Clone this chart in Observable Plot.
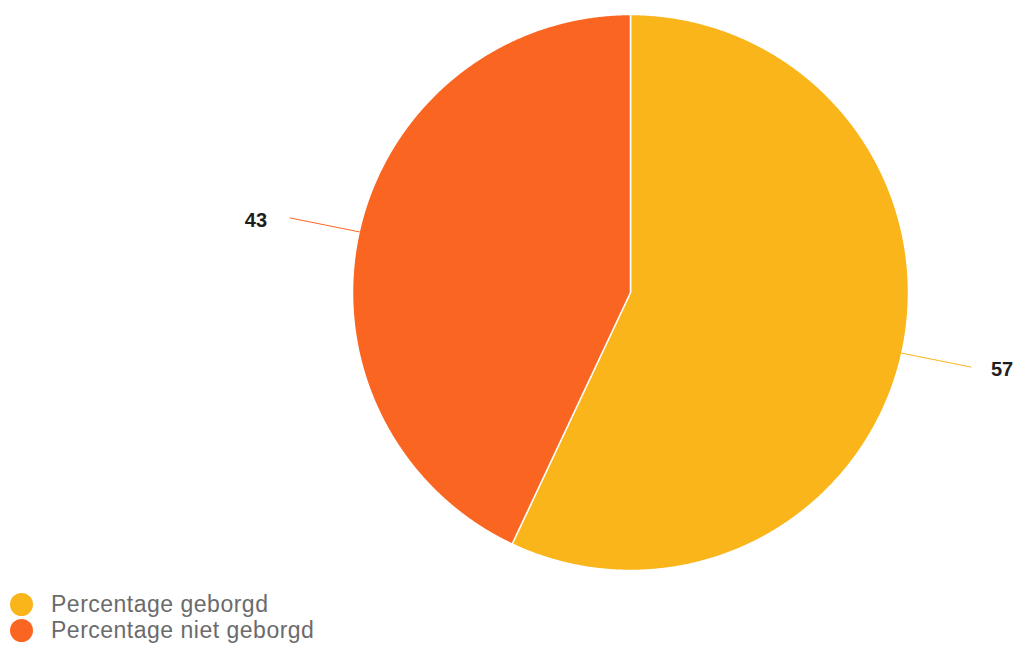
<!DOCTYPE html>
<html>
<head>
<meta charset="utf-8">
<script src="https://cdn.jsdelivr.net/npm/d3@7"></script>
<script src="https://cdn.jsdelivr.net/npm/@observablehq/plot@0.6"></script>
<style>
  html, body { margin: 0; padding: 0; background: #fff; }
  #chart { position: relative; width: 1017px; height: 649px; }
  #legend { position: absolute; left: 0; top: 590px; font-family: "Liberation Sans", Arial, sans-serif; font-size: 23px; letter-spacing: 0.5px; color: #6b6b6b; }
  .item { position: absolute; left: 10px; white-space: nowrap; height: 26px; line-height: 26px; }
  .dot { position: absolute; left: 0; top: 2px; width: 23px; height: 23px; border-radius: 50%; }
  .lbl { position: absolute; left: 41px; top: 0; }
</style>
</head>
<body>
<div id="chart"></div>
<script>
const categories = ["Percentage geborgd", "Percentage niet geborgd"];
const values = [57, 43];
const colors = ["#fab51b", "#fa6622"];

// layout constants (pixels)
const W = 1017, H = 590, CX = 630, CY = 292, R = 278;

const total = d3.sum(values);
const slices = [];
const leaders = [];
const labels = [];
let acc = 0;
values.forEach((v, i) => {
  const a0 = acc / total * 2 * Math.PI;
  acc += v;
  const a1 = acc / total * 2 * Math.PI;
  const n = Math.max(4, Math.ceil((a1 - a0) / 0.005));
  slices.push({cat: categories[i], x: 0, y: 0});
  for (let k = 0; k <= n; k++) {
    const a = a0 + (a1 - a0) * k / n;
    slices.push({cat: categories[i], x: Math.sin(a), y: Math.cos(a)});
  }
  const am = (a0 + a1) / 2;
  const ex = 1.255 * Math.sin(am), ey = 1.23 * Math.cos(am);
  leaders.push({cat: categories[i], x: Math.sin(am), y: Math.cos(am)});
  leaders.push({cat: categories[i], x: ex, y: ey});
  const right = Math.sin(am) >= 0;
  labels.push({cat: categories[i], value: v, x: ex + (right ? 20 : -23) / R, y: ey - 3 / R, anchor: right ? "start" : "end"});
});

const xDomain = [-CX / R, (W - CX) / R];
const yDomain = [-(H - CY) / R, CY / R];
const labelStyle = {x: "x", y: "y", text: d => String(d.value), fill: "#1e1e1e", fontWeight: "bold", fontSize: 20, fontFamily: "Liberation Sans, Arial, sans-serif"};

const plot = Plot.plot({
  width: W,
  height: H,
  margin: 0,
  x: {domain: xDomain, range: [0, W], axis: null},
  y: {domain: yDomain, range: [H, 0], axis: null},
  color: {domain: categories, range: colors},
  marks: [
    Plot.line(slices, {x: "x", y: "y", z: "cat", fill: "cat", stroke: "#fff", strokeWidth: 1.5, curve: "linear-closed"}),
    Plot.line(leaders, {x: "x", y: "y", z: "cat", stroke: "cat", strokeWidth: 1, curve: "linear"}),
    Plot.text(labels.filter(d => d.anchor === "start"), {...labelStyle, textAnchor: "start"}),
    Plot.text(labels.filter(d => d.anchor === "end"), {...labelStyle, textAnchor: "end"})
  ]
});
const chart = document.getElementById("chart");
chart.appendChild(plot);

const legend = document.createElement("div");
legend.id = "legend";
categories.forEach((c, i) => {
  const it = document.createElement("div");
  it.className = "item";
  it.style.top = (1 + i * 26) + "px";
  const dot = document.createElement("span");
  dot.className = "dot";
  dot.style.background = colors[i];
  const t = document.createElement("span");
  t.className = "lbl";
  t.textContent = c;
  it.appendChild(dot);
  it.appendChild(t);
  legend.appendChild(it);
});
chart.appendChild(legend);
</script>
</body>
</html>
